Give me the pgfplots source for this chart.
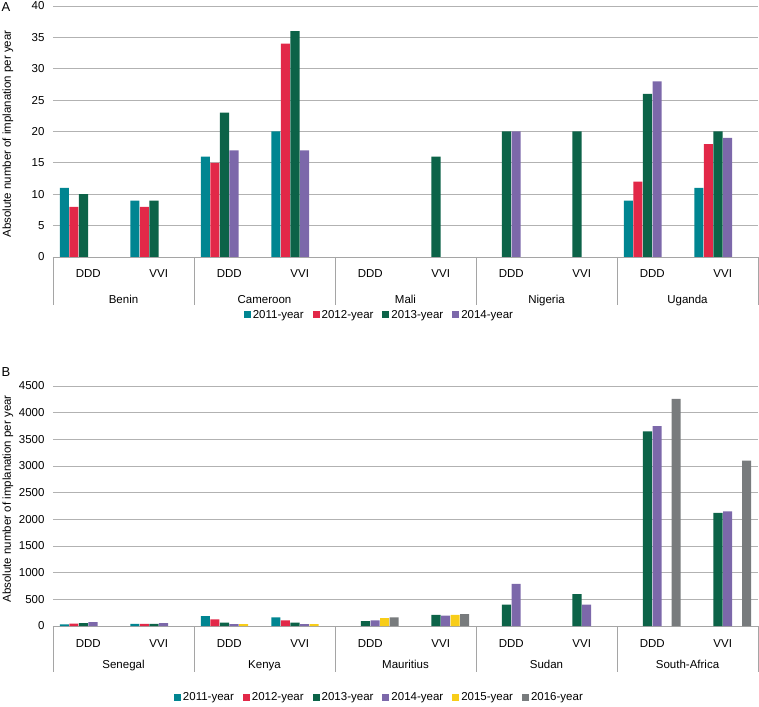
\documentclass[border=0pt]{standalone}
\usepackage{fontspec}
\setmainfont{Liberation Sans}
\usepackage{pgfplots}
\pgfplotsset{compat=1.18}

\definecolor{cA}{RGB}{0,133,145}
\definecolor{cB}{RGB}{226,40,72}
\definecolor{cC}{RGB}{12,99,72}
\definecolor{cD}{RGB}{124,104,170}
\definecolor{cE}{RGB}{248,205,24}
\definecolor{cF}{RGB}{120,123,125}
\definecolor{gridc}{RGB}{178,178,178}
\definecolor{sepc}{RGB}{165,165,165}

\pgfplotsset{
  myax/.style={
    scale only axis, width=705pt,
    xmin=-0.5, xmax=9.5, ymin=0,
    axis x line*=bottom, axis y line*=left,
    y axis line style={draw=none},
    x axis line style={draw=sepc,-, line width=0.8pt},
    major tick length=0pt,
    xtick={0,...,9},
    xticklabels={DDD,VVI,DDD,VVI,DDD,VVI,DDD,VVI,DDD,VVI},
    xticklabel style={anchor=base, yshift=-21pt},
    yticklabel style={xshift=-5pt},
    ymajorgrids, grid style={draw=gridc, line width=0.8pt},
    font=\fontsize{11.5}{13.8}\selectfont,
    /pgf/number format/assume math mode=true,
    /pgf/number format/1000 sep={},
    ybar, bar width=0.128,
    clip=false,
    legend columns=-1,
    ylabel={Absolute number of implanation per year},
  }
}

\begin{document}
\begin{tikzpicture}
% ---------------- Panel A ----------------
\begin{axis}[myax,
  name=axA, at={(0pt,0pt)}, anchor=north west,
  height=251pt, ymax=40, ytick={0,5,...,40},
  ylabel style={at={(axis description cs:0,0.49)}, anchor=center, yshift=45pt},
  legend style={at={(0.463,0)}, anchor=center, yshift=-58pt, draw=none, fill=none,
    inner sep=0pt, nodes={inner sep=2pt},
    /tikz/every even column/.style={column sep=7pt}},
  legend image code/.code={\fill[#1] (0pt,-3.5pt) rectangle (7pt,3.5pt);},
]
\addplot[fill=cA, draw=none, bar shift=-0.3375] coordinates {(0,11)(1,9)(2,16)(3,20)(8,9)(9,11)};
\addplot[fill=cB, draw=none, bar shift=-0.2025] coordinates {(0,8)(1,8)(2,15)(3,34)(8,12)(9,18)};
\addplot[fill=cC, draw=none, bar shift=-0.0675] coordinates {(0,10)(1,9)(2,23)(3,36)(5,16)(6,20)(7,20)(8,26)(9,20)};
\addplot[fill=cD, draw=none, bar shift=0.0675] coordinates {(2,17)(3,17)(6,20)(8,28)(9,19)};
\legend{2011-year,2012-year,2013-year,2014-year}
\pgfplotsinvokeforeach{-0.5,1.5,3.5,5.5,7.5,9.5}{\draw[sepc, line width=0.8pt] (axis cs:#1,0) -- ++(0pt,-48pt);}
\node[anchor=base, yshift=-47pt] at (axis cs:0.5,0) {Benin};
\node[anchor=base, yshift=-47pt] at (axis cs:2.5,0) {Cameroon};
\node[anchor=base, yshift=-47pt] at (axis cs:4.5,0) {Mali};
\node[anchor=base, yshift=-47pt] at (axis cs:6.5,0) {Nigeria};
\node[anchor=base, yshift=-47pt] at (axis cs:8.5,0) {Uganda};
\end{axis}

% ---------------- Panel B ----------------
\begin{axis}[myax,
  name=axB, at={(0pt,-380pt)}, anchor=north west,
  height=240pt, ymax=4500, ytick={0,500,...,4500},
  ylabel style={at={(axis description cs:0,0.53)}, anchor=center, yshift=45pt},
  legend style={at={(0.463,0)}, anchor=center, yshift=-71pt, draw=none, fill=none,
    inner sep=0pt, nodes={inner sep=2pt},
    /tikz/every even column/.style={column sep=7pt}},
  legend image code/.code={\fill[#1] (0pt,-3.5pt) rectangle (7pt,3.5pt);},
]
\addplot[fill=cA, draw=none, bar shift=-0.3375] coordinates {(0,30)(1,40)(2,185)(3,160)};
\addplot[fill=cB, draw=none, bar shift=-0.2025] coordinates {(0,45)(1,40)(2,125)(3,105)};
\addplot[fill=cC, draw=none, bar shift=-0.0675] coordinates {(0,55)(1,40)(2,65)(3,65)(4,90)(5,210)(6,400)(7,600)(8,3650)(9,2120)};
\addplot[fill=cD, draw=none, bar shift=0.0675] coordinates {(0,75)(1,55)(2,35)(3,35)(4,105)(5,195)(6,790)(7,400)(8,3750)(9,2150)};
\addplot[fill=cE, draw=none, bar shift=0.2025] coordinates {(2,35)(3,35)(4,150)(5,210)};
\addplot[fill=cF, draw=none, bar shift=0.3375] coordinates {(4,160)(5,225)(8,4260)(9,3100)};
\legend{2011-year,2012-year,2013-year,2014-year,2015-year,2016-year}
\pgfplotsinvokeforeach{-0.5,1.5,3.5,5.5,7.5,9.5}{\draw[sepc, line width=0.8pt] (axis cs:#1,0) -- ++(0pt,-46pt);}
\node[anchor=base, yshift=-42pt] at (axis cs:0.5,0) {Senegal};
\node[anchor=base, yshift=-42pt] at (axis cs:2.5,0) {Kenya};
\node[anchor=base, yshift=-42pt] at (axis cs:4.5,0) {Mauritius};
\node[anchor=base, yshift=-42pt] at (axis cs:6.5,0) {Sudan};
\node[anchor=base, yshift=-42pt] at (axis cs:8.5,0) {South-Africa};
\end{axis}

\node[font=\fontsize{13}{15}\selectfont] at (-47pt,-1pt) {A};
\node[font=\fontsize{13}{15}\selectfont] at (-47pt,-366pt) {B};

\pgfresetboundingbox
\path[use as bounding box] (-53pt,6pt) rectangle (706pt,-700pt);
\end{tikzpicture}
\end{document}
